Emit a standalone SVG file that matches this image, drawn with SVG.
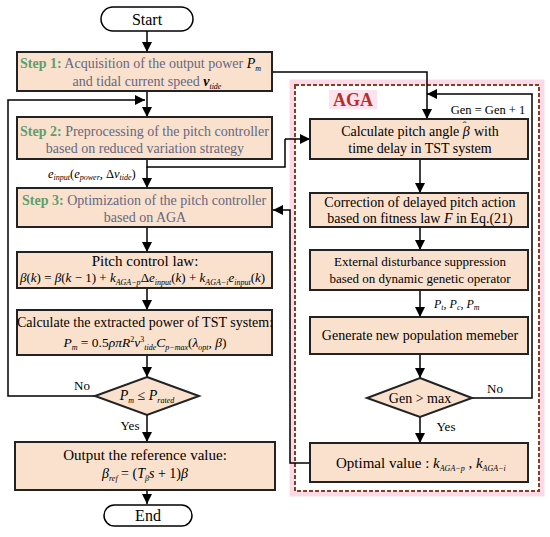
<svg xmlns="http://www.w3.org/2000/svg" width="550" height="537" viewBox="0 0 550 537" font-family="'Liberation Serif', 'Times New Roman', serif">
<defs>
<marker id="ah" viewBox="0 0 10 10" refX="10" refY="5" markerWidth="10" markerHeight="10" markerUnits="userSpaceOnUse" orient="auto">
<path d="M0,0 L10,5 L0,10 Z" fill="#000"/>
</marker>
</defs>
<style>
text{font-family:'Liberation Serif','Times New Roman',serif;fill:#000}
.box{fill:#f9e1cd;stroke:#222;stroke-width:2}
.term{fill:#fff;stroke:#000;stroke-width:1.5}
.ln{fill:none;stroke:#000;stroke-width:1.5}
.arr{fill:none;stroke:#000;stroke-width:1.5;marker-end:url(#ah)}
.st{fill:#5e9e6e;font-weight:bold}
.gr{fill:#666680}
.i{font-style:italic}
.s{font-size:8px}
.m{text-anchor:middle}
</style>
<rect x="292" y="82" width="250" height="412" fill="none" stroke="#fbd9e6" stroke-width="5"/>
<rect x="295" y="85" width="244" height="406" fill="none" stroke="#8b3b1f" stroke-width="2" stroke-dasharray="4,2"/>
<rect x="329" y="90" width="48" height="19" fill="#fde3ee"/>
<text x="353" y="106" class="m" style="font-size:18px;font-weight:bold;fill:#b5302a">AGA</text>
<text x="488" y="114" class="m" style="font-size:12.5px">Gen = Gen + 1</text>

<g id="connectors">
<path class="arr" d="M147,31 V52"/>
<path class="arr" d="M147,91 V117"/>
<path class="arr" d="M95,396 H8 V100 H145"/>
<path class="ln" d="M147,159 V167 H285 V139"/>
<path class="arr" d="M285,139 H310"/>
<path class="arr" d="M147,167 V188"/>
<path class="arr" d="M147,227 V252"/>
<path class="arr" d="M147,288 V310"/>
<path class="arr" d="M147,355 V377"/>
<path class="arr" d="M147,415 V442"/>
<path class="arr" d="M147,490 V504"/>
<path class="arr" d="M272,72 H427 V119"/>
<path class="arr" d="M420,159 V193"/>
<path class="arr" d="M420,227 V250"/>
<path class="arr" d="M420,290 V317"/>
<path class="arr" d="M420,354 V378"/>
<path class="arr" d="M420,417 V443"/>
<path class="arr" d="M472,398 H532 V94 H427"/>
<path class="arr" d="M310,463 H290 V210 H273"/>
</g>

<g id="start"><rect class="term" x="101" y="7" width="92" height="24" rx="12"/><text x="147" y="25" class="m" style="font-size:16px">Start</text></g>

<g id="step1"><rect class="box" x="17" y="52" width="255" height="39"/>
<text x="20" y="68" style="font-size:14px"><tspan class="st">Step 1:</tspan><tspan class="gr"> Acquisition of the output power  </tspan><tspan class="i">P</tspan><tspan class="i s" dy="3">m</tspan></text>
<text x="147" y="86" class="m gr" style="font-size:14px">and tidal current speed <tspan class="i" style="font-weight:bold;fill:#000">v</tspan><tspan class="i s" dy="3" style="fill:#000">tide</tspan></text></g>

<g id="step2"><rect class="box" x="17" y="117" width="255" height="42"/>
<text x="20" y="136" style="font-size:14px"><tspan class="st">Step 2:</tspan><tspan class="gr"> Preprocessing of the pitch controller</tspan></text>
<text x="145" y="153" class="m gr" style="font-size:14px">based on reduced variation strategy</text></g>

<text x="48" y="178" style="font-size:12.5px"><tspan class="i">e</tspan><tspan class="i s" dy="2">input</tspan><tspan dy="-2">(</tspan><tspan class="i">e</tspan><tspan class="i s" dy="2">power</tspan><tspan dy="-2">, Δ</tspan><tspan class="i">v</tspan><tspan class="i s" dy="2">tide</tspan><tspan dy="-2">)</tspan></text>

<g id="step3"><rect class="box" x="17" y="188" width="255" height="39"/>
<text x="22" y="205" style="font-size:14px"><tspan class="st">Step 3:</tspan><tspan class="gr"> Optimization of the pitch controller</tspan></text>
<text x="145" y="222" class="m gr" style="font-size:14px">based on AGA</text></g>

<g id="law"><rect class="box" x="17" y="252" width="255" height="36"/>
<text x="145" y="266" class="m" style="font-size:15px">Pitch control law:</text>
<text x="20" y="282" style="font-size:13px"><tspan class="i">β</tspan>(<tspan class="i">k</tspan>) = <tspan class="i">β</tspan>(<tspan class="i">k</tspan> − 1) + <tspan class="i">k</tspan><tspan class="i s" dy="3">AGA−p</tspan><tspan dy="-3">Δ</tspan><tspan class="i">e</tspan><tspan class="i s" dy="3">input</tspan><tspan dy="-3">(</tspan><tspan class="i">k</tspan>) + <tspan class="i">k</tspan><tspan class="i s" dy="3">AGA−i</tspan><tspan class="i" dy="-3">e</tspan><tspan class="i s" dy="3">input</tspan><tspan dy="-3">(</tspan><tspan class="i">k</tspan>)</text></g>

<g id="calc"><rect class="box" x="17" y="310" width="255" height="45"/>
<text x="145" y="327" class="m" style="font-size:14px">Calculate the extracted power of  TST system:</text>
<text x="145" y="347" class="m" style="font-size:13.5px"><tspan class="i">P</tspan><tspan class="i s" dy="3">m</tspan><tspan dy="-3"> = 0.5</tspan><tspan class="i">ρπR</tspan><tspan class="s" dy="-5">2</tspan><tspan class="i" dy="5">v</tspan><tspan class="s" dy="-5">3</tspan><tspan class="i s" dy="8">tide</tspan><tspan class="i" dy="-3">C</tspan><tspan class="i s" dy="3">p−max</tspan><tspan dy="-3">(</tspan><tspan class="i">λ</tspan><tspan class="i s" dy="3">opt</tspan><tspan dy="-3">, </tspan><tspan class="i">β</tspan>)</text></g>

<g id="check"><path class="box" d="M147,377 L199,396 L147,415 L95,396 Z"/>
<text x="147" y="400" class="m" style="font-size:14px"><tspan class="i">P</tspan><tspan class="i s" dy="3">m</tspan><tspan dy="-3"> ≤ </tspan><tspan class="i">P</tspan><tspan class="i s" dy="3">rated</tspan></text></g>
<text x="82" y="390" class="m" style="font-size:13px">No</text>
<text x="130" y="430" class="m" style="font-size:13px">Yes</text>

<g id="output"><rect class="box" x="15" y="442" width="260" height="48"/>
<text x="145" y="460" class="m" style="font-size:15px">Output the reference value:</text>
<text x="145" y="478" class="m" style="font-size:14px"><tspan class="i">β</tspan><tspan class="i s" dy="3">ref</tspan><tspan dy="-3"> = (</tspan><tspan class="i">T</tspan><tspan class="i s" dy="3">β</tspan><tspan class="i" dy="-3">s</tspan> + 1)<tspan class="i">β</tspan></text></g>

<g id="end"><rect class="term" x="104" y="505" width="88" height="21" rx="10.5"/><text x="148" y="521" class="m" style="font-size:16px">End</text></g>

<g id="pitchangle"><rect class="box" x="310" y="119" width="218" height="40"/>
<text x="420" y="136" class="m" style="font-size:14px">Calculate pitch angle  <tspan class="i">β</tspan><tspan dx="-7" dy="-7" style="font-size:11px">ˆ</tspan><tspan dx="4" dy="7"> with</tspan></text>
<text x="420" y="153" class="m" style="font-size:14px">time delay in TST system</text></g>

<g id="correction"><rect class="box" x="310" y="193" width="218" height="34"/>
<text x="420" y="207" class="m" style="font-size:14px">Correction of delayed pitch action</text>
<text x="420" y="223" class="m" style="font-size:14px">based on fitness law <tspan class="i">F</tspan> in Eq.(21)</text></g>

<g id="disturb"><rect class="box" x="310" y="250" width="218" height="40"/>
<text x="420" y="266" class="m" style="font-size:13px">External disturbance suppression</text>
<text x="420" y="283" class="m" style="font-size:13px">based on dynamic genetic operator</text></g>
<text x="434" y="308" style="font-size:12px"><tspan class="i">P</tspan><tspan class="i s" dy="2">t</tspan><tspan dy="-2">, </tspan><tspan class="i">P</tspan><tspan class="i s" dy="2">c</tspan><tspan dy="-2">, </tspan><tspan class="i">P</tspan><tspan class="i s" dy="2">m</tspan></text>

<g id="generate"><rect class="box" x="310" y="317" width="218" height="37"/>
<text x="420" y="340" class="m" style="font-size:14px">Generate  new population memeber</text></g>

<g id="genmax"><path class="box" d="M420,378 L472,398 L420,417 L367,398 Z"/>
<text x="420" y="403" class="m" style="font-size:14px">Gen &gt; max</text></g>
<text x="495" y="393" class="m" style="font-size:13px">No</text>
<text x="446" y="431" class="m" style="font-size:13px">Yes</text>

<g id="optimal"><rect class="box" x="310" y="443" width="218" height="39"/>
<text x="336" y="468" style="font-size:15px">Optimal value : <tspan class="i">k</tspan><tspan class="i s" dy="3">AGA−p</tspan><tspan dy="-3">  ,  </tspan><tspan class="i">k</tspan><tspan class="i s" dy="3">AGA−i</tspan></text></g>
</svg>
